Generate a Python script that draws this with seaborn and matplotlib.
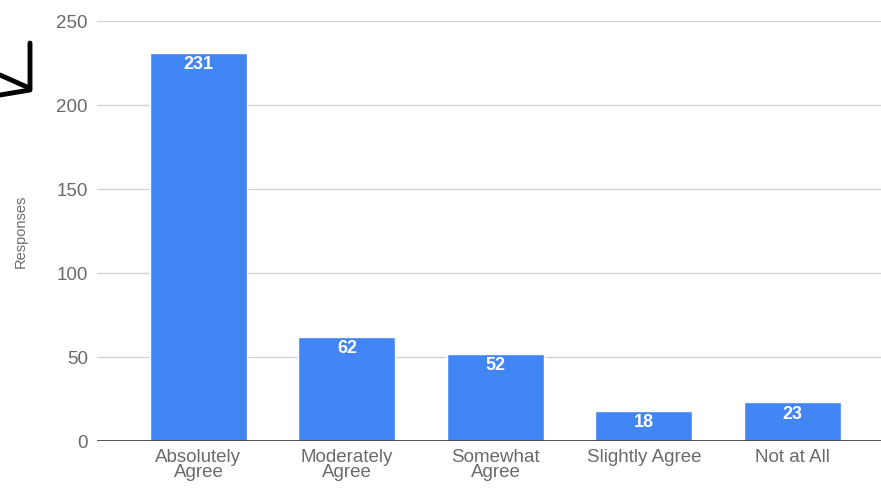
import matplotlib
matplotlib.use("Agg")
import matplotlib.pyplot as plt
import seaborn as sns
import pandas as pd
from matplotlib.lines import Line2D

categories = ["Absolutely\nAgree", "Moderately\nAgree", "Somewhat\nAgree", "Slightly Agree", "Not at All"]
responses = [231, 62, 52, 18, 23]
yticks = [0, 50, 100, 150, 200, 250]

sns.set_theme(style="white")
plt.rcParams['font.family'] = ['Liberation Sans', 'DejaVu Sans']

df = pd.DataFrame({"category": categories, "responses": responses})

fig = plt.figure(figsize=(8.81, 4.88), dpi=100)
ax = fig.add_axes([97/881, 1 - 441/488, 1 - 97/881, 420/488])

sns.barplot(data=df, x="category", y="responses", color="#4285F4", saturation=1,
            width=0.653, ax=ax, zorder=3)

ax.set_xlim(-0.683, 4.596)
ax.set_ylim(0, 250)
ax.set_yticks(yticks)
ax.set_yticklabels([str(t) for t in yticks])
for v in yticks[1:]:
    ax.axhline(v, color="#d4d4d4", lw=1.0, zorder=1)
ax.axhline(0, color="#444444", lw=1.3, zorder=4)

for s in ax.spines.values():
    s.set_visible(False)

ax.tick_params(axis="both", length=0, labelsize=13.5, labelcolor="#6a6a6a")
ax.tick_params(axis="y", pad=6.5)
ax.tick_params(axis="x", pad=6)
for lbl in ax.get_xticklabels():
    lbl.set_linespacing(0.85)

ax.set_xlabel("")
ax.set_ylabel("Responses", fontsize=10.5, color="#6a6a6a", labelpad=21)

for i, v in enumerate(responses):
    ax.annotate(str(v), xy=(i, v), xytext=(0, -8.5), textcoords="offset points",
                ha="center", va="center", color="white", fontsize=13,
                fontweight="bold", zorder=5)

# hand-drawn arrow mark in top-left corner (pixel coordinates of the figure)
def fx(px):
    return px / 881
def fy(py):
    return 1 - py / 488
fig.add_artist(Line2D([fx(30), fx(30), fx(0)], [fy(43), fy(90), fy(95)],
                      color="black", lw=3.5, solid_capstyle="round",
                      solid_joinstyle="round"))
fig.add_artist(Line2D([fx(0), fx(27)], [fy(75), fy(87)],
                      color="black", lw=3.5, solid_capstyle="round"))

fig.savefig("out.png", dpi=100)
